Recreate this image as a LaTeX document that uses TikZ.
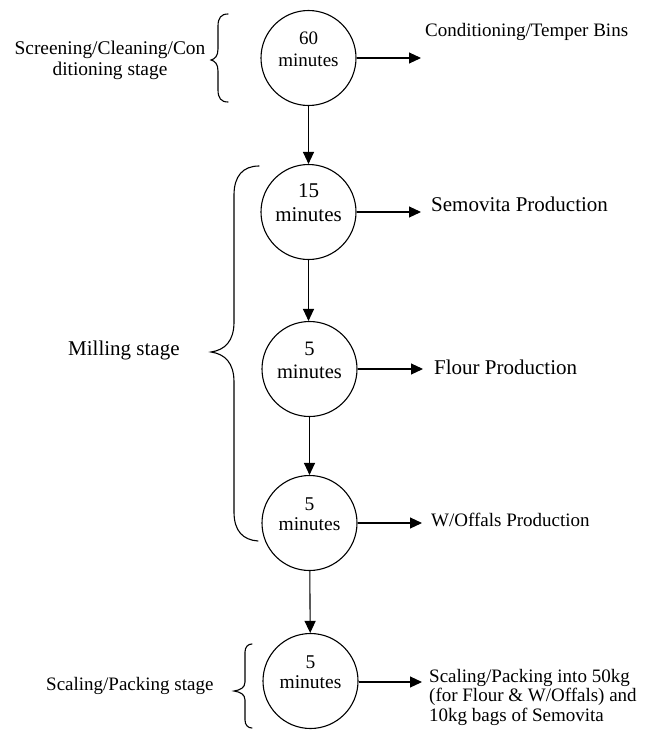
\documentclass[tikz,border=0pt]{standalone}
\usepackage{fontspec}
\setmainfont{Liberation Serif}
\usetikzlibrary{arrows.meta}
\begin{document}
\begin{tikzpicture}[x=1pt,y=-1pt,
  stagecircle/.style={circle,draw,line width=1.1pt,minimum size=95pt,inner sep=0pt},
  circtext/.style={align=center,inner sep=0pt},
  outtext/.style={anchor=west,inner sep=0pt,align=left},
  arr/.style={line width=1.1pt,-{Triangle[length=12pt,width=11pt]}},
  bracestyle/.style={line width=1.1pt,line cap=round}]
\useasboundingbox (0,0) rectangle (648,731);
% circles
\node[stagecircle] (c1) at (308.5,58) {};
\node[stagecircle] (c2) at (308.5,212) {};
\node[stagecircle] (c3) at (309.5,369) {};
\node[stagecircle] (c4) at (309.5,523) {};
\node[stagecircle] (c5) at (310.5,681) {};
% circle texts
\node[circtext,font=\fontsize{19}{22}\selectfont] (m1) at ([yshift=9pt]c1.center) {60\\minutes};
\node[circtext,font=\fontsize{21}{24}\selectfont] (m2) at ([yshift=9pt]c2.center) {15\\minutes};
\node[circtext,font=\fontsize{20.5}{23}\selectfont] (m3) at ([yshift=9pt]c3.center) {5\\minutes};
\node[circtext,font=\fontsize{19.5}{20}\selectfont] (m4) at ([yshift=9pt]c4.center) {5\\minutes};
\node[circtext,font=\fontsize{19.5}{20}\selectfont] (m5) at ([yshift=9pt]c5.center) {5\\minutes};
% output texts
\node[outtext,font=\fontsize{19}{21}\selectfont] (t1) at (425,32) {Conditioning/Temper Bins};
\node[outtext,font=\fontsize{21}{23}\selectfont] (t2) at (431,204) {Semovita Production};
\node[outtext,font=\fontsize{21}{23}\selectfont] (t3) at (434,367) {Flour Production};
\node[outtext,font=\fontsize{19}{21}\selectfont] (t4) at (431,520) {W/Offals Production};
\node[outtext,font=\fontsize{19}{19.5}\selectfont] (t5) at (429,697) {Scaling/Packing into 50kg\\(for Flour \& W/Offals) and\\10kg bags of Semovita};
% arrow ends
\coordinate (e1) at (421,58);
\coordinate (e2) at (421,212);
\coordinate (e3) at (423,369);
\coordinate (e4) at (422,523);
\coordinate (e5) at (422,682);
\draw[arr] (c1.east) -- (e1);
\draw[arr] (c2.east) -- (e2);
\draw[arr] (c3.east) -- (e3);
\draw[arr] (c4.east) -- (e4);
\draw[arr] (c5.east |- e5) -- (e5);
% vertical arrows
\draw[arr] (c1.south) -- (c2.north);
\draw[arr] (c2.south) -- (c2.south |- c3.north);
\draw[arr] (c3.south) -- (c4.north);
\draw[arr] (c4) -- (c5);
% stage labels
\node[align=center,inner sep=0pt,font=\fontsize{19.4}{21}\selectfont] (s1) at (110,60) {Screening/Cleaning/Con\\ditioning stage};
\node[anchor=west,inner sep=0pt,font=\fontsize{21}{23}\selectfont] (s2) at (68,350) {Milling stage};
\node[anchor=west,inner sep=0pt,font=\fontsize{19}{21}\selectfont] (s3) at (46,686) {Scaling/Packing stage};
% braces
\draw[bracestyle] (228,14) .. controls (221,14) and (218,18) .. (218,26) -- (218,49)
  .. controls (218,56) and (215,59) .. (211,60)
  .. controls (215,61) and (218,64) .. (218,71) -- (218,90)
  .. controls (218,98) and (221,102) .. (228,102);
\draw[bracestyle] (259,166) .. controls (243,166) and (234,176) .. (234,195) -- (234,322)
  .. controls (234,341) and (225,350) .. (211,352)
  .. controls (225,354) and (234,363) .. (234,382) -- (234,512)
  .. controls (234,531) and (243,540) .. (258,541);
\draw[bracestyle] (252,644) .. controls (248,644) and (245,647) .. (245,652) -- (245,682)
  .. controls (245,688) and (240,690) .. (234,691)
  .. controls (240,692) and (245,694) .. (245,700) -- (245,720)
  .. controls (245,725) and (248,728) .. (252,728);
\end{tikzpicture}
\end{document}
